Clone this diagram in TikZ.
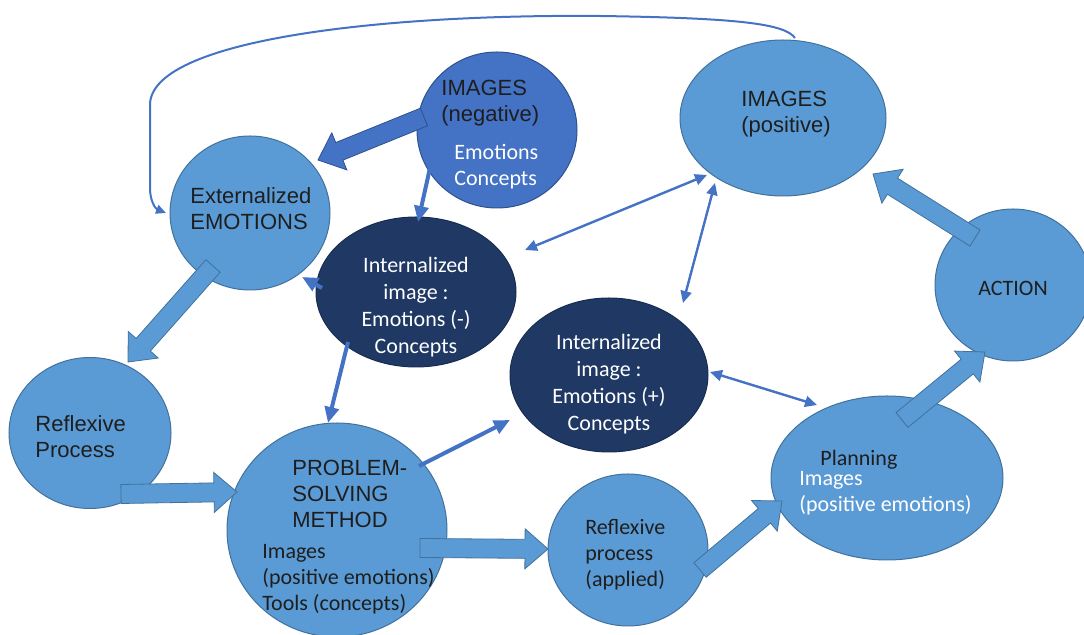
\documentclass[tikz,border=0pt]{standalone}
\usepackage{fontspec}
\usetikzlibrary{shapes.geometric,calc,arrows.meta}
\newfontfamily\arialf{Liberation Sans}
\newfontfamily\calif{Carlito}
\definecolor{lb}{HTML}{5B9BD5}
\definecolor{lbedge}{HTML}{41719C}
\definecolor{mb}{HTML}{4472C4}
\definecolor{mbedge}{HTML}{2F528F}
\definecolor{navy}{HTML}{203864}
\definecolor{navyedge}{HTML}{172C51}
\definecolor{ink}{HTML}{1E1E1E}

\tikzset{
  bubble/.style={ellipse, fill=lb, draw=lbedge, line width=0.5pt, inner sep=0pt},
  negbubble/.style={ellipse, fill=mb, draw=mbedge, line width=0.5pt, inner sep=0pt},
  navybubble/.style={ellipse, fill=navy, draw=navyedge, line width=0.5pt, inner sep=0pt},
  atext/.style={font=\arialf\fontsize{11}{13}\selectfont, text=ink, align=left, inner sep=0pt},
  ctext/.style={font=\calif\fontsize{11}{13}\selectfont, text=ink, align=left, inner sep=0pt},
  wtext/.style={font=\calif\fontsize{11}{13.4}\selectfont, text=white, align=center, inner sep=0pt},
  blk/.style={fill=lb, draw=lbedge, line width=0.4pt, line join=miter},
  blkdark/.style={fill=mb, draw=mbedge, line width=0.4pt, line join=miter},
  thick conn/.style={draw=mb, line width=2pt, -{Triangle[length=8pt,width=7pt]}},
  thin conn/.style={draw=mb, line width=1.2pt, {Triangle[length=6pt,width=5.5pt]}-{Triangle[length=6pt,width=5.5pt]}},
  loop conn/.style={draw=mb, line width=1pt, -{Triangle[length=5pt,width=4.5pt]}}
}

% wide arrow from #2 (tail) to #3 (tip), style #1
\newcommand{\blockarrow}[3]{%
  \coordinate (ba-neck) at ($(#3)!11.5pt!(#2)$);
  \draw[#1] ($(#2)!4.75pt!90:(#3)$) -- ($(ba-neck)!4.75pt!90:(#3)$)
    -- ($(ba-neck)!10pt!90:(#3)$) -- (#3)
    -- ($(ba-neck)!10pt!-90:(#3)$) -- ($(ba-neck)!4.75pt!-90:(#3)$)
    -- ($(#2)!4.75pt!-90:(#3)$) -- cycle;}

\begin{document}
\begin{tikzpicture}[x=0.5pt,y=-0.5pt]
\useasboundingbox (0,0) rectangle (1084,635);
\begin{scope}
\clip (0,0) rectangle (1084,635);

% bubbles
\node[bubble, minimum width=80pt, minimum height=77pt] (ext) at (250,213) {};
\node[negbubble, minimum width=80pt, minimum height=78pt] (neg) at (497,130) {};
\node[bubble, minimum width=103pt, minimum height=78pt] (pos) at (783,118) {};
\node[navybubble, minimum width=100pt, minimum height=75pt] (intm) at (416,292) {};
\node[navybubble, minimum width=99pt, minimum height=77pt] (intp) at (609,375) {};
\node[bubble, minimum width=78pt, minimum height=76pt] (action) at (1013,285) {};
\node[bubble, minimum width=81pt, minimum height=75.5pt] (rp) at (90,433) {};
\node[bubble, minimum width=110pt, minimum height=107pt] (psm) at (337,530) {};
\node[bubble, minimum width=80pt, minimum height=76pt] (rpa) at (628,550) {};
\node[bubble, minimum width=116pt, minimum height=82pt] (plan) at (887,478) {};

% texts
\node[atext, anchor=west] (ext-t) at (190,209) {Externalized\\EMOTIONS};
\node[atext, anchor=west] (neg-t) at (441,103) {IMAGES\\(negative)};
\node[ctext, anchor=west, text=white] (neg-s) at (454,167) {Emotions\\Concepts};
\node[atext, anchor=west] (pos-t) at (741,114) {IMAGES\\(positive)};
\node[wtext] (intm-t) at (416,307) {Internalized\\image :\\Emotions (-)\\Concepts};
\node[wtext] (intp-t) at (609,384) {Internalized\\image :\\Emotions (+)\\Concepts};
\node[ctext] (action-t) at (1013,288) {ACTION};
\node[atext, anchor=west] (rp-t) at (35,437) {Reflexive\\Process};
\node[atext, anchor=west] (psm-t) at (292,494) {PROBLEM-\\SOLVING\\METHOD};
\node[ctext, anchor=west] (psm-s) at (262,579) {Images\\(positive emotions)\\Tools (concepts)};
\node[ctext, anchor=west] (rpa-t) at (585,555) {Reflexive\\process\\(applied)};
\node[ctext, anchor=west] (plan-t) at (820,460) {Planning};
\node[ctext, anchor=west, text=white] (plan-s) at (799,493) {Images\\(positive emotions)};

% wide arrows
\coordinate (a1) at (424,117);  \coordinate (a2) at (318,160);
\coordinate (b1) at (213,266);  \coordinate (b2) at (128,362);
\coordinate (c1) at (121,494);  \coordinate (c2) at (237,492);
\coordinate (d1) at (420,548);  \coordinate (d2) at (548,549);
\coordinate (e1) at (700,570);  \coordinate (e2) at (782,501);
\coordinate (f1) at (902,420);  \coordinate (f2) at (985,352);
\coordinate (g1) at (975,238);  \coordinate (g2) at (873,174);
\blockarrow{blkdark}{a1}{a2}
\blockarrow{blk}{b1}{b2}
\blockarrow{blk}{c1}{c2}
\blockarrow{blk}{d1}{d2}
\blockarrow{blk}{e1}{e2}
\blockarrow{blk}{f1}{f2}
\blockarrow{blk}{g1}{g2}

% line connectors
\coordinate (h1) at (430,168);  \coordinate (h2) at (418,222);
\coordinate (i1) at (322,288);  \coordinate (i2) at (302,277);
\coordinate (j1) at (348,342);  \coordinate (j2) at (328,423);
\coordinate (k1) at (419,466);  \coordinate (k2) at (510,420);
\draw[thick conn] (h1) -- (h2);
\draw[thick conn] (i1) -- (i2);
\draw[thick conn] (j1) -- (j2);
\draw[thick conn] (k1) -- (k2);

\coordinate (l1) at (525,250);  \coordinate (l2) at (707,175);
\coordinate (m1) at (683,303);  \coordinate (m2) at (715,183);
\coordinate (n1) at (710,372);  \coordinate (n2) at (817,405);
\draw[thin conn] (l1) -- (l2);
\draw[thin conn] (m1) -- (m2);
\draw[thin conn] (n1) -- (n2);

% feedback loop from positive images back to externalized emotions
\coordinate (loopstart) at (795,38);
\coordinate (loopend) at (166,213);
\draw[loop conn] (loopstart) .. controls (785,24) and (740,18) .. (600,16)
  .. controls (380,14) and (150,40) .. (150,105) -- (150,188)
  .. controls (150,202) and (156,209) .. (loopend);
\end{scope}
\end{tikzpicture}
\end{document}
